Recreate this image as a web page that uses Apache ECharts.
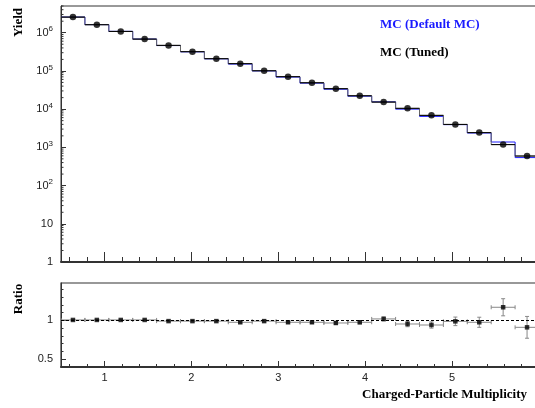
<!DOCTYPE html>
<html>
<head>
<meta charset="utf-8">
<script src="https://cdn.jsdelivr.net/npm/echarts@6/dist/echarts.min.js"></script>
<style>
  html, body { margin: 0; padding: 0; background: #fff; }
  #chart { width: 535px; height: 408px; }
</style>
</head>
<body>
<div id="chart"></div>
<script>
// Histogram bin edges (20 bins of charged-particle multiplicity)
const binEdges = [0.5, 0.775, 1.05, 1.325, 1.6, 1.875, 2.15, 2.425, 2.7, 2.975, 3.25,
                  3.525, 3.8, 4.075, 4.35, 4.625, 4.9, 5.175, 5.45, 5.725, 6.0];

// Yield per bin, tuned MC
const tunedYield = [2.56e6, 1.62e6, 1.08e6, 6.8e5, 4.66e5, 3.19e5, 2.09e5, 1.55e5, 1.01e5, 7.07e4,
                    4.9e4, 3.43e4, 2.24e4, 1.53e4, 1.05e4, 6870, 3980, 2430, 1180, 593];

// Yield per bin, default MC
const defaultYield = [2.57e6, 1.63e6, 1.085e6, 6.83e5, 4.61e5, 3.16e5, 2.07e5, 1.51e5, 1.0e5, 6.89e4,
                      4.78e4, 3.31e4, 2.18e4, 1.56e4, 1.0e4, 6460, 3930, 2370, 1380, 540];

// Ratio default / tuned and its uncertainty
const ratio = [1.005, 1.005, 1.005, 1.005, 0.99, 0.99, 0.99, 0.975, 0.99, 0.975,
               0.975, 0.966, 0.975, 1.018, 0.953, 0.94, 0.987, 0.975, 1.168, 0.91];
const ratioErr = [0.006, 0.006, 0.007, 0.008, 0.008, 0.009, 0.01, 0.011, 0.012, 0.013,
                  0.015, 0.017, 0.02, 0.026, 0.035, 0.04, 0.055, 0.065, 0.11, 0.14];

// Axis ticks and labels
const xMajorTicks = [1, 2, 3, 4, 5];
const ratioMajorTicks = [0.5, 1];
const ratioMinorTicks = [0.4, 0.6, 0.7, 0.8, 0.9, 1.1, 1.2, 1.3, 1.4];
const yieldMax = 5e6;

const xMinorTicks = [];
for (let k = 3; k <= 30; k++) { if (k % 5 !== 0) xMinorTicks.push(k / 5); }
const logMinorTicks = [];
for (let d = 1; d <= 1e6; d *= 10) {
  for (let m = 2; m <= 9; m++) { if (m * d <= yieldMax) logMinorTicks.push(m * d); }
}

const centers = binEdges.slice(0, -1).map((e, i) => (e + binEdges[i + 1]) / 2);
function stepData(vals) {
  const d = [];
  vals.forEach((v, i) => { d.push([binEdges[i], v]); d.push([binEdges[i + 1], v]); });
  return d;
}

const labelFont = { fontFamily: 'Liberation Sans', fontSize: 11, color: '#222' };
const serifBold = '"Liberation Serif", "Times New Roman", serif';
const xMin = 0.5, xMax = 6.0;

function seg(x1, y1, x2, y2, color) {
  return { type: 'line', shape: { x1, y1, x2, y2 }, style: { stroke: color, lineWidth: 1 } };
}

const chart = echarts.init(document.getElementById('chart'), null, { renderer: 'canvas' });

chart.setOption({
  animation: false,
  backgroundColor: '#fff',
  grid: [
    { left: 61, top: 6, width: 478, height: 256, outerBoundsMode: 'none',
      show: true, borderColor: '#333', borderWidth: 1 },
    { left: 61, top: 283, width: 478, height: 84, outerBoundsMode: 'none',
      show: true, borderColor: '#333', borderWidth: 1.2 }
  ],
  xAxis: [
    { gridIndex: 0, type: 'value', min: xMin, max: xMax, position: 'bottom',
      axisLine: { lineStyle: { color: '#333', width: 2 } },
      axisTick: { inside: true, length: 10, customValues: xMajorTicks, lineStyle: { color: '#333' } },
      axisLabel: { show: false }, splitLine: { show: false } },
    { gridIndex: 0, type: 'value', min: xMin, max: xMax, position: 'bottom',
      axisLine: { show: false },
      axisTick: { inside: true, length: 5, customValues: xMinorTicks, lineStyle: { color: '#333' } },
      axisLabel: { show: false }, splitLine: { show: false } },
    { gridIndex: 1, type: 'value', min: xMin, max: xMax, position: 'bottom',
      axisLine: { lineStyle: { color: '#333', width: 2 } },
      axisTick: { inside: true, length: 6, customValues: xMajorTicks, lineStyle: { color: '#333' } },
      axisLabel: Object.assign({ customValues: xMajorTicks, margin: 5 }, labelFont),
      splitLine: { show: false } },
    { gridIndex: 1, type: 'value', min: xMin, max: xMax, position: 'bottom',
      axisLine: { show: false },
      axisTick: { inside: true, length: 3, customValues: xMinorTicks, lineStyle: { color: '#333' } },
      axisLabel: { show: false }, splitLine: { show: false } }
  ],
  yAxis: [
    { gridIndex: 0, type: 'log', logBase: 10, min: 1, max: yieldMax,
      axisLine: { lineStyle: { color: '#333', width: 1 } },
      axisTick: { inside: true, length: 5, lineStyle: { color: '#333' } },
      axisLabel: Object.assign({
        margin: 8, showMaxLabel: false,
        formatter: function (v) {
          const e = Math.round(Math.log10(v));
          if (Math.abs(v - Math.pow(10, e)) > 1e-6 * v) return '';
          if (e === 0) return '1';
          if (e === 1) return '10';
          return '10{s|' + e + '}';
        },
        rich: { s: { fontFamily: 'Liberation Sans', fontSize: 8, color: '#222', padding: [0, 0, 7, 0] } }
      }, labelFont),
      splitLine: { show: false } },
    { gridIndex: 1, type: 'value', min: 0.4, max: 1.48,
      axisLine: { lineStyle: { color: '#333', width: 1 } },
      axisTick: { inside: true, length: 5, customValues: ratioMajorTicks, lineStyle: { color: '#333' } },
      axisLabel: Object.assign({ customValues: ratioMajorTicks, margin: 8 }, labelFont),
      splitLine: { show: false } },
    { gridIndex: 1, type: 'value', min: 0.4, max: 1.48, position: 'left',
      axisLine: { show: false },
      axisTick: { inside: true, length: 2.5, customValues: ratioMinorTicks, lineStyle: { color: '#333' } },
      axisLabel: { show: false }, splitLine: { show: false } }
  ],
  series: [
    // minor ticks of the logarithmic yield axis
    { type: 'custom', xAxisIndex: 0, yAxisIndex: 0, silent: true,
      data: logMinorTicks.map(v => [xMin, v]), encode: { x: 0, y: 1 },
      renderItem: function (params, api) {
        const p = api.coord([api.value(0), api.value(1)]);
        return seg(p[0], p[1], p[0] + 2.5, p[1], '#333');
      } },
    // default MC histogram
    { type: 'line', xAxisIndex: 0, yAxisIndex: 0, data: stepData(defaultYield),
      symbol: 'none', lineStyle: { color: '#2020ff', width: 1 }, z: 2 },
    // tuned MC histogram
    { type: 'line', xAxisIndex: 0, yAxisIndex: 0, data: stepData(tunedYield),
      symbol: 'none', lineStyle: { color: '#666', width: 1 }, z: 3 },
    // tuned MC points with bin-width bars
    { type: 'custom', xAxisIndex: 0, yAxisIndex: 0, z: 4,
      data: tunedYield.map((v, i) => [binEdges[i], binEdges[i + 1], v]), encode: { x: [0, 1], y: 2 },
      renderItem: function (params, api) {
        const a = api.coord([api.value(0), api.value(2)]);
        const b = api.coord([api.value(1), api.value(2)]);
        return seg(a[0], a[1], b[0], b[1], '#000');
      } },
    { type: 'scatter', xAxisIndex: 0, yAxisIndex: 0, z: 5,
      data: tunedYield.map((v, i) => [centers[i], v]),
      symbol: 'circle', symbolSize: 6.5, itemStyle: { color: '#000' } },
    // ratio error bars
    { type: 'custom', xAxisIndex: 2, yAxisIndex: 1, z: 3,
      data: ratio.map((r, i) => [binEdges[i], binEdges[i + 1], r, ratioErr[i], centers[i]]),
      encode: { x: [0, 1], y: 2 },
      renderItem: function (params, api) {
        const c = '#888';
        const r = api.value(2), e = api.value(3), xc = api.value(4);
        const l = api.coord([api.value(0), r]);
        const h = api.coord([api.value(1), r]);
        const top = api.coord([xc, r + e]);
        const bot = api.coord([xc, r - e]);
        return { type: 'group', children: [
          seg(l[0], l[1], h[0], h[1], c),
          seg(l[0], l[1] - 2, l[0], l[1] + 2, c),
          seg(h[0], h[1] - 2, h[0], h[1] + 2, c),
          seg(top[0], top[1], bot[0], bot[1], c),
          seg(top[0] - 2, top[1], top[0] + 2, top[1], c),
          seg(bot[0] - 2, bot[1], bot[0] + 2, bot[1], c)
        ] };
      } },
    { type: 'scatter', xAxisIndex: 2, yAxisIndex: 1, z: 5,
      data: ratio.map((r, i) => [centers[i], r]),
      symbol: 'rect', symbolSize: 4.5, itemStyle: { color: '#000' },
      markLine: { silent: true, symbol: ['none', 'none'], label: { show: false },
        lineStyle: { color: '#000', type: [3, 2], width: 1 },
        data: [{ yAxis: 1 }] } }
  ],
  graphic: [
    { type: 'text', x: 18.5, y: 22.5, rotation: Math.PI / 2,
      style: { text: 'Yield', font: 'bold 13px ' + serifBold, fill: '#000', align: 'center', verticalAlign: 'middle' } },
    { type: 'text', x: 18.5, y: 299, rotation: Math.PI / 2,
      style: { text: 'Ratio', font: 'bold 13px ' + serifBold, fill: '#000', align: 'center', verticalAlign: 'middle' } },
    { type: 'text', x: 527, y: 395,
      style: { text: 'Charged-Particle Multiplicity', font: 'bold 13px ' + serifBold, fill: '#000', align: 'right', verticalAlign: 'middle' } },
    { type: 'text', x: 380, y: 25,
      style: { text: 'MC (Default MC)', font: 'bold 13px ' + serifBold, fill: '#1a1aff', align: 'left', verticalAlign: 'middle' } },
    { type: 'text', x: 380, y: 53,
      style: { text: 'MC (Tuned)', font: 'bold 13px ' + serifBold, fill: '#000', align: 'left', verticalAlign: 'middle' } }
  ]
});
</script>
</body>
</html>
